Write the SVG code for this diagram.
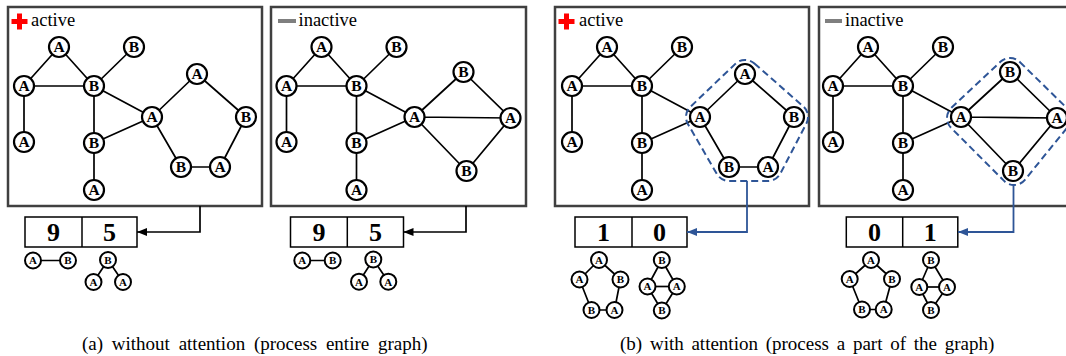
<svg xmlns="http://www.w3.org/2000/svg" width="1066" height="356" viewBox="0 0 1066 356" font-family="'Liberation Serif','Times New Roman',Tinos,'DejaVu Serif',serif">
<style>
.frame{fill:#fff;stroke:#404040;stroke-width:2.5}
.edge{stroke:#000;stroke-width:1.7;fill:none}
.node circle{fill:#fff;stroke:#000;stroke-width:2.2}
.node text{font-family:'Liberation Serif','Times New Roman',Tinos,'DejaVu Serif',serif;font-weight:bold;font-size:15.5px;text-anchor:middle}
.sn circle{fill:#fff;stroke:#000;stroke-width:2}
.sn text{font-family:'Liberation Serif','Times New Roman',Tinos,'DejaVu Serif',serif;font-weight:bold;font-size:11px;text-anchor:middle}
.lbl{font-family:'Liberation Serif','Times New Roman',Tinos,'DejaVu Serif',serif;font-size:18.5px}
.vec rect,.vec line{fill:#fff;stroke:#000;stroke-width:1.5}
.vec text{font-family:'Liberation Serif','Times New Roman',Tinos,'DejaVu Serif',serif;font-weight:bold;font-size:26px;text-anchor:middle}
.att{fill:none;stroke:#2E5597;stroke-width:2;stroke-dasharray:7 4}
.cap{font-family:'Liberation Serif','Times New Roman',Tinos,'DejaVu Serif',serif;font-size:19px}
</style>
<defs>
<marker id="arK" markerUnits="userSpaceOnUse" markerWidth="10" markerHeight="8" refX="10" refY="4" orient="auto"><path d="M0,0 L10,4 L0,8 z" fill="#000"/></marker>
<marker id="arB" markerUnits="userSpaceOnUse" markerWidth="10" markerHeight="8" refX="10" refY="4" orient="auto"><path d="M0,0 L10,4 L0,8 z" fill="#2E5597"/></marker>
</defs>

<!-- Panel 1 -->
<g id="panel1">
<rect class="frame" x="8" y="7" width="254" height="199"/>
<path d="M11.5,21.5 H27.5 M19.5,13.5 V29.5" stroke="#f00" stroke-width="5"/>
<text class="lbl" x="31" y="26">active</text>
<g id="p1-edges">
<path class="edge" d="M59,47 L24,86 M59,47 L94,86 M24,86 L94,86 M134,47 L94,86 M24,86 L24,142 M94,86 L94,143 M94,143 L94,190 M94,86 L152,117 M94,143 L152,117 M152,117 L197,74 M197,74 L246,117 M246,117 L220,167 M220,167 L181,167 M181,167 L152,117"/>
</g>
<g id="p1-n1" class="node" transform="translate(59,47)"><circle r="10"/><text y="5">A</text></g>
<g id="p1-n2" class="node" transform="translate(134,47)"><circle r="10"/><text y="5">B</text></g>
<g id="p1-n3" class="node" transform="translate(24,86)"><circle r="10"/><text y="5">A</text></g>
<g id="p1-n4" class="node" transform="translate(94,86)"><circle r="10"/><text y="5">B</text></g>
<g id="p1-n5" class="node" transform="translate(152,117)"><circle r="10"/><text y="5">A</text></g>
<g id="p1-n6" class="node" transform="translate(197,74)"><circle r="10"/><text y="5">A</text></g>
<g id="p1-n7" class="node" transform="translate(246,117)"><circle r="10"/><text y="5">B</text></g>
<g id="p1-n8" class="node" transform="translate(24,142)"><circle r="10"/><text y="5">A</text></g>
<g id="p1-n9" class="node" transform="translate(94,143)"><circle r="10"/><text y="5">B</text></g>
<g id="p1-n10" class="node" transform="translate(181,167)"><circle r="10"/><text y="5">B</text></g>
<g id="p1-n11" class="node" transform="translate(220,167)"><circle r="10"/><text y="5">A</text></g>
<g id="p1-n12" class="node" transform="translate(94,190)"><circle r="10"/><text y="5">A</text></g>
<g id="p1-vec" class="vec">
<rect x="25" y="217" width="112" height="30"/><line x1="82" y1="217" x2="82" y2="247"/>
<text x="53.5" y="241">9</text><text x="109.5" y="241">5</text>
</g>
<g id="p1-arrow"><path class="edge" d="M200,206 V232 H137" stroke-width="2" marker-end="url(#arK)"/></g>
<g id="p1-small">
<path class="edge" d="M33,260.5 H68 M108,260 L93.5,282 M108,260 L123,282"/>
<g class="sn" transform="translate(33,260.5)"><circle r="8"/><text y="3.9">A</text></g>
<g class="sn" transform="translate(68,260.5)"><circle r="8"/><text y="3.9">B</text></g>
<g class="sn" transform="translate(108,260)"><circle r="8"/><text y="3.9">B</text></g>
<g class="sn" transform="translate(93.5,282)"><circle r="8"/><text y="3.9">A</text></g>
<g class="sn" transform="translate(123,282)"><circle r="8"/><text y="3.9">A</text></g>
</g>
</g>

<!-- Panel 2 -->
<g id="panel2">
<rect class="frame" x="271" y="7" width="255" height="199"/>
<path d="M278,21 H296" stroke="#7f7f7f" stroke-width="4"/>
<text class="lbl" x="298.5" y="26">inactive</text>
<g transform="translate(262.5,0)">
<g id="p2-edges">
<path class="edge" d="M59,47 L24,86 M59,47 L94,86 M24,86 L94,86 M134,47 L94,86 M24,86 L24,142 M94,86 L94,143 M94,143 L94,190 M94,86 L152,117 M94,143 L152,117 M152,117 L201,72 M152,117 L248,118 M152,117 L204,171 M201,72 L248,118 M204,171 L248,118"/>
</g>
<g id="p2-n1" class="node" transform="translate(59,47)"><circle r="10"/><text y="5">A</text></g>
<g id="p2-n2" class="node" transform="translate(134,47)"><circle r="10"/><text y="5">B</text></g>
<g id="p2-n3" class="node" transform="translate(24,86)"><circle r="10"/><text y="5">A</text></g>
<g id="p2-n4" class="node" transform="translate(94,86)"><circle r="10"/><text y="5">B</text></g>
<g id="p2-n5" class="node" transform="translate(152,117)"><circle r="10"/><text y="5">A</text></g>
<g id="p2-n6" class="node" transform="translate(201,72)"><circle r="10"/><text y="5">B</text></g>
<g id="p2-n7" class="node" transform="translate(248,118)"><circle r="10"/><text y="5">A</text></g>
<g id="p2-n8" class="node" transform="translate(24,142)"><circle r="10"/><text y="5">A</text></g>
<g id="p2-n9" class="node" transform="translate(94,143)"><circle r="10"/><text y="5">B</text></g>
<g id="p2-n10" class="node" transform="translate(204,171)"><circle r="10"/><text y="5">B</text></g>
<g id="p2-n12" class="node" transform="translate(94,190)"><circle r="10"/><text y="5">A</text></g>
</g>
<g id="p2-vec" class="vec">
<rect x="290.5" y="217" width="113" height="30"/><line x1="347.3" y1="217" x2="347.3" y2="247"/>
<text x="319" y="241">9</text><text x="375.5" y="241">5</text>
</g>
<g id="p2-arrow"><path class="edge" d="M466,206 V232 H403.5" stroke-width="2" marker-end="url(#arK)"/></g>
<g id="p2-small">
<path class="edge" d="M302.3,260.5 H332.7 M373.3,259.5 L359,281.7 M373.3,259.5 L388.3,281.7"/>
<g class="sn" transform="translate(302.3,260.5)"><circle r="8"/><text y="3.9">A</text></g>
<g class="sn" transform="translate(332.7,260.5)"><circle r="8"/><text y="3.9">B</text></g>
<g class="sn" transform="translate(373.3,259.5)"><circle r="8"/><text y="3.9">B</text></g>
<g class="sn" transform="translate(359,281.7)"><circle r="8"/><text y="3.9">A</text></g>
<g class="sn" transform="translate(388.3,281.7)"><circle r="8"/><text y="3.9">A</text></g>
</g>
</g>

<!-- Panel 3 -->
<g id="panel3">
<rect class="frame" x="555" y="7" width="254" height="199"/>
<path d="M558.5,21.5 H574.5 M566.5,13.5 V29.5" stroke="#f00" stroke-width="5"/>
<text class="lbl" x="579" y="26">active</text>
<g transform="translate(548,0)">
<g id="p3-edges">
<path class="edge" d="M59,47 L24,86 M59,47 L94,86 M24,86 L94,86 M134,47 L94,86 M24,86 L24,142 M94,86 L94,143 M94,143 L94,190 M94,86 L152,117 M94,143 L152,117 M152,117 L197,74 M197,74 L246,117 M246,117 L220,167 M220,167 L181,167 M181,167 L152,117"/>
</g>
<g id="p3-n1" class="node" transform="translate(59,47)"><circle r="10"/><text y="5">A</text></g>
<g id="p3-n2" class="node" transform="translate(134,47)"><circle r="10"/><text y="5">B</text></g>
<g id="p3-n3" class="node" transform="translate(24,86)"><circle r="10"/><text y="5">A</text></g>
<g id="p3-n4" class="node" transform="translate(94,86)"><circle r="10"/><text y="5">B</text></g>
<g id="p3-n5" class="node" transform="translate(152,117)"><circle r="10"/><text y="5">A</text></g>
<g id="p3-n6" class="node" transform="translate(197,74)"><circle r="10"/><text y="5">A</text></g>
<g id="p3-n7" class="node" transform="translate(246,117)"><circle r="10"/><text y="5">B</text></g>
<g id="p3-n8" class="node" transform="translate(24,142)"><circle r="10"/><text y="5">A</text></g>
<g id="p3-n9" class="node" transform="translate(94,143)"><circle r="10"/><text y="5">B</text></g>
<g id="p3-n10" class="node" transform="translate(181,167)"><circle r="10"/><text y="5">B</text></g>
<g id="p3-n11" class="node" transform="translate(220,167)"><circle r="10"/><text y="5">A</text></g>
<g id="p3-n12" class="node" transform="translate(94,190)"><circle r="10"/><text y="5">A</text></g>
</g>
<path id="p3-attention" class="att" d="M754.4,63.5 L803.2,106.3 A14 14 0 0 1 806.4,123.5 L780.4,173.5 A14 14 0 0 1 768,181 L729,181 A14 14 0 0 1 716.9,174 L687.9,124 A14 14 0 0 1 690.3,106.9 L735.3,63.9 A14 14 0 0 1 754.4,63.5 Z"/>
<g id="p3-vec" class="vec">
<rect x="575" y="217" width="112" height="30"/><line x1="632" y1="217" x2="632" y2="247"/>
<text x="603.5" y="241">1</text><text x="659.5" y="241">0</text>
</g>
<g id="p3-arrow"><path d="M747,181 V232 H687" fill="none" stroke="#2E5597" stroke-width="1.8" marker-end="url(#arB)"/></g>
<g id="p3-small">
<path class="edge" d="M599,260 L579.5,279.5 M599,260 L620.5,279.5 M579.5,279.5 L591.5,310 M620.5,279.5 L614.5,310 M591.5,310 L614.5,310 M661.8,260 L647.5,286.5 M661.8,260 L676.8,286.5 M647.5,286.5 L661.8,310.5 M676.8,286.5 L661.8,310.5"/>
<path class="edge" d="M647.5,286.5 H676.8" stroke-width="3"/>
<g class="sn" transform="translate(599,260)"><circle r="8"/><text y="3.9">A</text></g>
<g class="sn" transform="translate(579.5,279.5)"><circle r="8"/><text y="3.9">A</text></g>
<g class="sn" transform="translate(620.5,279.5)"><circle r="8"/><text y="3.9">B</text></g>
<g class="sn" transform="translate(591.5,310)"><circle r="8"/><text y="3.9">B</text></g>
<g class="sn" transform="translate(614.5,310)"><circle r="8"/><text y="3.9">A</text></g>
<g class="sn" transform="translate(661.8,260)"><circle r="8"/><text y="3.9">B</text></g>
<g class="sn" transform="translate(647.5,286.5)"><circle r="8"/><text y="3.9">A</text></g>
<g class="sn" transform="translate(676.8,286.5)"><circle r="8"/><text y="3.9">A</text></g>
<g class="sn" transform="translate(661.8,310.5)"><circle r="8"/><text y="3.9">B</text></g>
</g>
</g>

<!-- Panel 4 -->
<g id="panel4">
<rect class="frame" x="819" y="7" width="255" height="199"/>
<path d="M825,21 H842" stroke="#7f7f7f" stroke-width="4"/>
<text class="lbl" x="845" y="26">inactive</text>
<g transform="translate(809,0)">
<g id="p4-edges">
<path class="edge" d="M59,47 L24,86 M59,47 L94,86 M24,86 L94,86 M134,47 L94,86 M24,86 L24,142 M94,86 L94,143 M94,143 L94,190 M94,86 L152,117 M94,143 L152,117 M152,117 L201,72 M152,117 L248,118 M152,117 L204,171 M201,72 L248,118 M204,171 L248,118"/>
</g>
<g id="p4-n1" class="node" transform="translate(59,47)"><circle r="10"/><text y="5">A</text></g>
<g id="p4-n2" class="node" transform="translate(134,47)"><circle r="10"/><text y="5">B</text></g>
<g id="p4-n3" class="node" transform="translate(24,86)"><circle r="10"/><text y="5">A</text></g>
<g id="p4-n4" class="node" transform="translate(94,86)"><circle r="10"/><text y="5">B</text></g>
<g id="p4-n5" class="node" transform="translate(152,117)"><circle r="10"/><text y="5">A</text></g>
<g id="p4-n6" class="node" transform="translate(201,72)"><circle r="10"/><text y="5">B</text></g>
<g id="p4-n7" class="node" transform="translate(248,118)"><circle r="10"/><text y="5">A</text></g>
<g id="p4-n8" class="node" transform="translate(24,142)"><circle r="10"/><text y="5">A</text></g>
<g id="p4-n9" class="node" transform="translate(94,143)"><circle r="10"/><text y="5">B</text></g>
<g id="p4-n10" class="node" transform="translate(204,171)"><circle r="10"/><text y="5">B</text></g>
<g id="p4-n12" class="node" transform="translate(94,190)"><circle r="10"/><text y="5">A</text></g>
</g>
<path id="p4-attention" class="att" d="M1019.8,62 L1066.8,108 A14 14 0 0 1 1067.9,126.8 L1024.9,179.8 A14 14 0 0 1 1004.1,180.9 L951.1,127.9 A14 14 0 0 1 951.4,107.8 L1000.4,61.8 A14 14 0 0 1 1019.8,62 Z"/>
<g id="p4-vec" class="vec">
<rect x="846.3" y="217" width="111.5" height="30"/><line x1="902.7" y1="217" x2="902.7" y2="247"/>
<text x="874.5" y="241">0</text><text x="930.3" y="241">1</text>
</g>
<g id="p4-arrow"><path d="M1013.5,185 V232 H958" fill="none" stroke="#2E5597" stroke-width="1.8" marker-end="url(#arB)"/></g>
<g id="p4-small">
<path class="edge" d="M871,260 L849.7,279 M871,260 L892,279 M849.7,279 L862,309.5 M892,279 L883.7,309.5 M862,309.5 L883.7,309.5 M931,260 L919.3,287 M931,260 L947,287 M919.3,287 L931,310 M947,287 L931,310"/>
<path class="edge" d="M919.3,287 H947" stroke-width="3"/>
<g class="sn" transform="translate(871,260)"><circle r="8"/><text y="3.9">A</text></g>
<g class="sn" transform="translate(849.7,279)"><circle r="8"/><text y="3.9">A</text></g>
<g class="sn" transform="translate(892,279)"><circle r="8"/><text y="3.9">B</text></g>
<g class="sn" transform="translate(862,309.5)"><circle r="8"/><text y="3.9">B</text></g>
<g class="sn" transform="translate(883.7,309.5)"><circle r="8"/><text y="3.9">A</text></g>
<g class="sn" transform="translate(931,260)"><circle r="8"/><text y="3.9">B</text></g>
<g class="sn" transform="translate(919.3,287)"><circle r="8"/><text y="3.9">A</text></g>
<g class="sn" transform="translate(947,287)"><circle r="8"/><text y="3.9">A</text></g>
<g class="sn" transform="translate(931,310)"><circle r="8"/><text y="3.9">B</text></g>
</g>
</g>

<text class="cap" x="82" y="350" word-spacing="4">(a) without attention (process entire graph)</text>
<text class="cap" x="620" y="350" word-spacing="3">(b) with attention (process a part of the graph)</text>
</svg>
